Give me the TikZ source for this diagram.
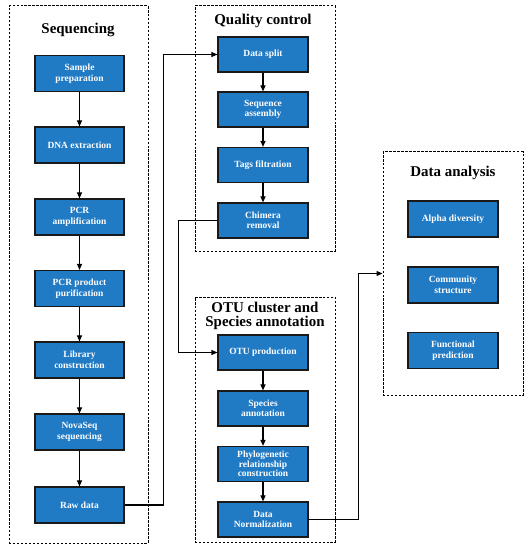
\documentclass[tikz,border=0pt]{standalone}
\usepackage{fontspec}
\setmainfont{Liberation Serif}
\newfontfamily\tnr{Liberation Serif}
\usetikzlibrary{arrows.meta}
\definecolor{boxblue}{RGB}{33,122,196}
\definecolor{boxedge}{RGB}{25,25,25}
\tikzset{
  stepbox/.style={draw=boxedge, line width=1.2pt, fill=boxblue, text=white,
    font=\tnr\fontsize{9.5}{10.5}\selectfont\bfseries, align=center,
    minimum width=89bp, minimum height=36bp, inner sep=1pt},
  grp/.style={draw=black, line width=1pt, dash pattern=on 2.5pt off 1.5pt,
    minimum width=#1, inner sep=0pt},
  ttl/.style={font=\tnr\fontsize{15}{14}\selectfont\bfseries, align=center, text=black},
  arr/.style={draw=black, line width=1.1pt, -{Triangle[length=6pt,width=5pt]}},
  ln/.style={draw=black, line width=1.1pt}
}
\begin{document}
\begin{tikzpicture}[x=1bp,y=-1bp]
\useasboundingbox (0,0) rectangle (529,550);
% group boxes
\node[grp=139bp, minimum height=537bp] (seqgrp) at (78.5,274.5) {};
\node[grp=140bp, minimum height=245bp] (qcgrp) at (265,128.5) {};
\node[grp=140bp, minimum height=245bp] (otugrp) at (265,419.5) {};
\node[grp=140bp, minimum height=243bp] (dagrp) at (453,273.5) {};
% titles
\node[ttl] (seqt) at (78,30) {Sequencing};
\node[ttl] (qct) at (263,21) {Quality control};
\node[ttl] (otut) at (265,316) {OTU cluster and\\Species annotation};
\node[ttl] (dat) at (453,173) {Data analysis};
% sequencing
\node[stepbox] (s1) at (79.5,73.5) {Sample\\preparation};
\node[stepbox] (s2) at (79.5,145) {DNA extraction};
\node[stepbox] (s3) at (79.5,217) {PCR\\amplification};
\node[stepbox] (s4) at (79.5,288.5) {PCR product\\purification};
\node[stepbox] (s5) at (79.5,360) {Library\\construction};
\node[stepbox] (s6) at (79.5,432) {NovaSeq\\sequencing};
\node[stepbox] (s7) at (79.5,505) {Raw data};
% quality control
\node[stepbox, minimum width=90bp, minimum height=35bp] (q1) at (263,54.5) {Data split};
\node[stepbox, minimum width=90bp, minimum height=35bp] (q2) at (263,109.5) {Sequence\\assembly};
\node[stepbox, minimum width=90bp, minimum height=35bp] (q3) at (263,165) {Tags filtration};
\node[stepbox, minimum width=90bp, minimum height=35bp] (q4) at (263,220.5) {Chimera\\removal};
% OTU
\node[stepbox, minimum width=90bp, minimum height=35bp] (o1) at (263,352.5) {OTU production};
\node[stepbox, minimum width=90bp, minimum height=35bp] (o2) at (263,408.5) {Species\\annotation};
\node[stepbox, minimum width=90bp, minimum height=35bp, font=\tnr\fontsize{9.5}{8}\selectfont\bfseries] (o3) at (263,464) {Phylogenetic\\relationship\\construction};
\node[stepbox, minimum width=90bp, minimum height=35bp] (o4) at (263,519.5) {Data\\Normalization};
% data analysis
\node[stepbox, minimum width=90bp] (d1) at (453,219) {Alpha diversity};
\node[stepbox, minimum width=90bp] (d2) at (453,285) {Community\\structure};
\node[stepbox, minimum width=90bp] (d3) at (453,350.5) {Functional\\prediction};
% arrows
\draw[arr] (s1) -- (s2);
\draw[arr] (s2) -- (s3);
\draw[arr] (s3) -- (s4);
\draw[arr] (s4) -- (s5);
\draw[arr] (s5) -- (s6);
\draw[arr] (s6) -- (s7);
\draw[arr] (q1) -- (q2);
\draw[arr] (q2) -- (q3);
\draw[arr] (q3) -- (q4);
\draw[arr] (o1) -- (o2);
\draw[arr] (o2) -- (o3);
\draw[arr] (o3) -- (o4);
\draw[arr] (s7.east) -- ++(39,0) |- (q1.west);
\draw[arr] (q4.west) -- ++(-39,0) |- (o1.west);
\draw[arr] (o4.east) -- ++(50,0) |- (dagrp.west);
\end{tikzpicture}
\end{document}
